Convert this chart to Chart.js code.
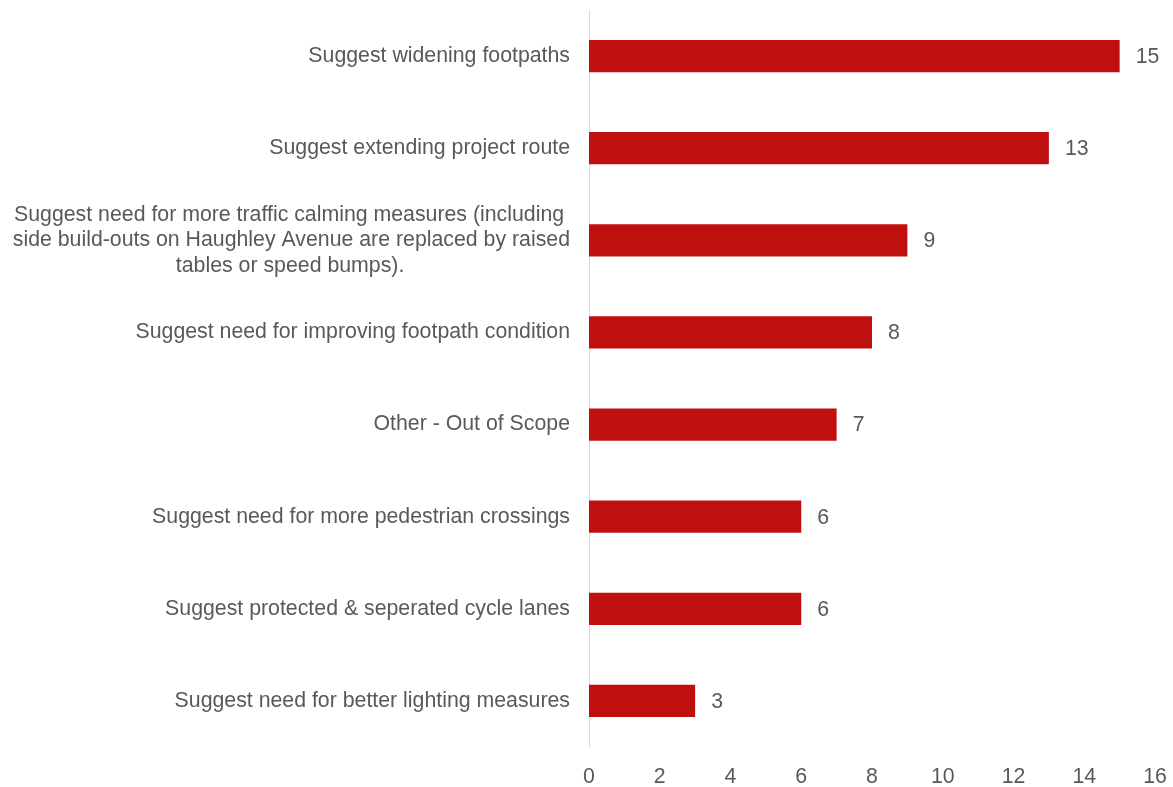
<!DOCTYPE html>
<html>
<head>
<meta charset="utf-8">
<script src="https://cdn.jsdelivr.net/npm/chart.js@4/dist/chart.umd.min.js"></script>
<style>
  html, body { margin: 0; padding: 0; background: #ffffff; }
  #wrap { width: 1173px; height: 787px; position: relative; }
</style>
</head>
<body>
<div id="wrap"><canvas id="chart"></canvas></div>
<script>
// Comment themes and how many responses mentioned each
const categories = [
  ['Suggest widening footpaths'],
  ['Suggest extending project route'],
  ['Suggest need for more traffic calming measures (including',
   'side build-outs on Haughley Avenue are replaced by raised',
   'tables or speed bumps).'],
  ['Suggest need for improving footpath condition'],
  ['Other - Out of Scope'],
  ['Suggest need for more pedestrian crossings'],
  ['Suggest protected & seperated cycle lanes'],
  ['Suggest need for better lighting measures']
];
const counts = [15, 13, 9, 8, 7, 6, 6, 3];
const xTicks = [0, 2, 4, 6, 8, 10, 12, 14, 16];

const FONT_FAMILY = "'Liberation Sans', Arial, sans-serif";
const FONT_SIZE = 21.3;
const TEXT_COLOR = '#595959';
const BAR_COLOR = '#C00F0F';

// Multi-line labels are centred within their block; Chart.js right-aligns
// each line, so pad shorter lines with trailing spaces to centre them.
function centreLines(lines) {
  if (lines.length < 2) return lines[0];
  const ctx = document.createElement('canvas').getContext('2d');
  ctx.font = FONT_SIZE + 'px ' + FONT_FAMILY;
  const space = ctx.measureText(' ').width;
  const widths = lines.map(l => ctx.measureText(l).width);
  const widest = Math.max(...widths);
  return lines.map((l, i) => {
    const n = Math.round(((widest - widths[i]) / 2) / space);
    return l + ' '.repeat(n);
  });
}
const labels = categories.map(centreLines);

// Value labels drawn just past the end of each bar
const valueLabels = {
  id: 'valueLabels',
  afterDatasetsDraw(chart) {
    const ctx = chart.ctx;
    ctx.save();
    ctx.font = FONT_SIZE + 'px ' + FONT_FAMILY;
    ctx.fillStyle = TEXT_COLOR;
    ctx.textAlign = 'left';
    ctx.textBaseline = 'middle';
    chart.getDatasetMeta(0).data.forEach((bar, i) => {
      ctx.fillText(String(counts[i]), bar.x + 16, bar.y + 1);
    });
    ctx.restore();
  }
};

new Chart(document.getElementById('chart'), {
  type: 'bar',
  data: {
    labels: labels,
    datasets: [{
      data: counts,
      backgroundColor: BAR_COLOR,
      borderWidth: 0,
      categoryPercentage: 1.0,
      barPercentage: 0.35
    }]
  },
  options: {
    indexAxis: 'y',
    responsive: true,
    maintainAspectRatio: false,
    animation: false,
    layout: { padding: { top: 10, right: 18, bottom: 0, left: 0 } },
    plugins: {
      legend: { display: false },
      tooltip: { enabled: false }
    },
    scales: {
      x: {
        min: 0,
        max: 16,
        afterBuildTicks(scale) { scale.ticks = xTicks.map(v => ({ value: v })); },
        afterFit(scale) {
          scale.height = 40;
          scale.paddingLeft = 0;
          scale.paddingRight = 0;
        },
        grid: { display: false, drawTicks: false },
        border: { display: false },
        ticks: {
          padding: 17,
          color: TEXT_COLOR,
          font: { family: FONT_FAMILY, size: FONT_SIZE }
        }
      },
      y: {
        afterFit(scale) {
          scale.width = 589;
          scale.paddingTop = 0;
          scale.paddingBottom = 0;
        },
        grid: { display: false, drawTicks: false },
        border: { display: true, color: '#D9D9D9', width: 1 },
        ticks: {
          padding: 19,
          autoSkip: false,
          color: TEXT_COLOR,
          font: { family: FONT_FAMILY, size: FONT_SIZE, lineHeight: 1.2 }
        }
      }
    }
  },
  plugins: [valueLabels]
});
</script>
</body>
</html>
